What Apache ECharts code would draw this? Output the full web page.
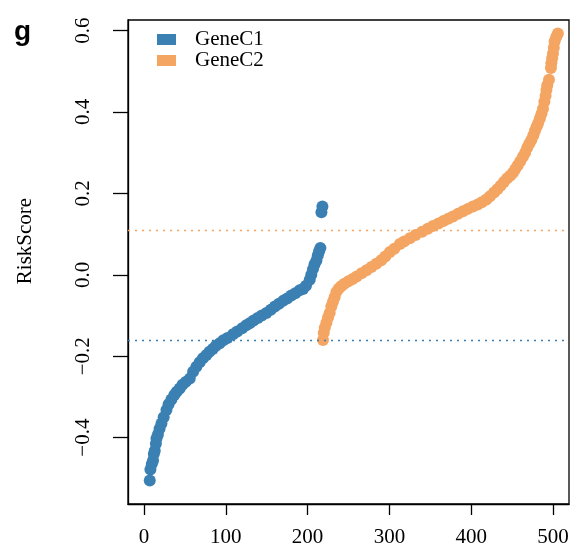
<!DOCTYPE html>
<html>
<head>
<meta charset="utf-8">
<script src="https://cdn.jsdelivr.net/npm/echarts@6/dist/echarts.min.js"></script>
<style>
	html, body { margin:0; padding:0; background:#fff; }
	#riskChart { width:574px; height:550px; }
</style>
</head>
<body>
<div id="riskChart"></div>
<script>
// sample index / risk score (sorted within each group)
var c1Index = [7.0, 7.8, 9.5, 11, 12, 13.1, 14.5, 15.2, 17, 19, 21.3, 24, 27.4, 30, 33.5, 37, 40, 43.6, 47, 51,
	55.9, 60, 64, 68, 72, 76.3, 80, 84, 88, 92.5, 97, 102, 108.8, 114, 120, 125, 129.2, 134, 139, 144,
	149.6, 155, 160, 165, 170, 175, 180, 185, 190.3, 194.4, 198, 202.6, 204.5, 206.6, 208.5, 210.8, 212.5, 214, 215.6, 216.9, 218.1];
var c1Score = [-0.505, -0.478, -0.465, -0.456, -0.440, -0.432, -0.415, -0.402, -0.392, -0.378, -0.365, -0.350, -0.332, -0.318, -0.306, -0.295, -0.287, -0.279, -0.270, -0.263,
	-0.255, -0.238, -0.226, -0.215, -0.205, -0.197, -0.189, -0.182, -0.174, -0.168, -0.161, -0.155, -0.146, -0.139, -0.131, -0.124, -0.119, -0.112, -0.106, -0.100,
	-0.094, -0.086, -0.078, -0.071, -0.064, -0.058, -0.051, -0.045, -0.038, -0.035, -0.027, -0.012, 0.000, 0.014, 0.026, 0.035, 0.048, 0.058, 0.066, 0.154, 0.168];

var c2Index = [218.8, 219.7, 221, 223, 225, 227, 229, 231, 233, 235.2, 238, 241, 245, 250, 255, 260, 266, 272, 278, 284,
	290, 295, 300.6, 306, 312.8, 318, 325, 332, 340, 347, 353.3, 360, 366, 372, 377.7, 384, 390, 396, 402.2, 408,
	413, 418.6, 423, 428, 432, 436, 440, 444, 448, 451.1, 454, 457, 460, 463.3, 466, 468.5, 471, 473.6, 476, 478,
	480, 481.7, 484, 486, 487.8, 489.5, 491, 492, 493, 495.1, 497.5, 498, 499, 500, 501, 502, 504, 506];
var c2Score = [-0.160, -0.143, -0.130, -0.118, -0.105, -0.094, -0.078, -0.066, -0.055, -0.042, -0.034, -0.028, -0.022, -0.016, -0.010, -0.004, 0.004, 0.011, 0.019, 0.027,
	0.036, 0.045, 0.056, 0.064, 0.076, 0.082, 0.090, 0.098, 0.106, 0.113, 0.120, 0.126, 0.132, 0.138, 0.143, 0.150, 0.156, 0.162, 0.168, 0.173,
	0.178, 0.185, 0.193, 0.202, 0.210, 0.219, 0.228, 0.237, 0.244, 0.251, 0.260, 0.269, 0.279, 0.290, 0.300, 0.312, 0.322, 0.331, 0.343, 0.354,
	0.364, 0.372, 0.384, 0.396, 0.408, 0.425, 0.440, 0.454, 0.466, 0.479, 0.508, 0.520, 0.532, 0.544, 0.558, 0.573, 0.584, 0.593];

var groupNames = ["GeneC1", "GeneC2"];
var groupColors = ["#3B80B3", "#F4A562"];
var cutoffs = [-0.156, 0.107];   // dotted threshold lines
var xTicks = [0, 100, 200, 300, 400, 500];
var yTicks = [-0.4, -0.2, 0, 0.2, 0.4, 0.6];

var serif = "Liberation Serif";

function pairUp(xs, ys){
	var out = [];
	for(var i=0;i<xs.length;i++){
		out.push([xs[i], ys[i]]);
	}
	return out;
}

function cutLine(v, color){
	return {
		silent: true,
		symbol: 'none',
		label: { show: false },
		lineStyle: { color: color, type: [2, 5], width: 1.4 },
		data: [{ yAxis: v }]
	};
}

var chart = echarts.init(document.getElementById("riskChart"));
var option = {
	animation: false,
	backgroundColor: '#fff',
	grid: {
		left: 128, top: 20, width: 441, height: 484,
		show: true, borderColor: '#000', borderWidth: 1.3,
		outerBoundsMode: 'none'
	},
	legend: {
		orient: 'vertical',
		left: 152, top: 24,
		icon: 'rect',
		itemWidth: 19, itemHeight: 11,
		itemGap: 0,
		data: groupNames,
		textStyle: { fontFamily: serif, fontSize: 21, color: '#000', lineHeight: 19, padding: [0, 0, 0, 14] }
	},
	xAxis: {
		type: 'value',
		min: -19.6, max: 519.6,
		axisLine: { show: true, onZero: false, lineStyle: { color: '#000', width: 1.3 } },
		splitLine: { show: false },
		axisTick: { show: true, length: 11, customValues: xTicks, lineStyle: { color: '#000', width: 1.3 } },
		axisLabel: { customValues: xTicks, fontFamily: serif, fontSize: 21, color: '#000', margin: 23 }
	},
	yAxis: {
		type: 'value',
		min: -0.563, max: 0.626,
		axisLine: { show: true, onZero: false, lineStyle: { color: '#000', width: 1.3 } },
		splitLine: { show: false },
		axisTick: { show: true, length: 15, customValues: yTicks, lineStyle: { color: '#000', width: 1.3 } },
		axisLabel: {
			customValues: yTicks, rotate: 90, fontFamily: serif, fontSize: 21, color: '#000', margin: 34,
			formatter: function(v){ return (v < 0 ? '\u2212' : '') + Math.abs(v).toFixed(1); }
		}
	},
	series: [{
		name: groupNames[0],
		type: 'scatter',
		symbolSize: 12,
		itemStyle: { color: groupColors[0], opacity: 1 },
		data: pairUp(c1Index, c1Score),
		markLine: cutLine(cutoffs[0], groupColors[0])
	}, {
		name: groupNames[1],
		type: 'scatter',
		symbolSize: 12,
		itemStyle: { color: groupColors[1], opacity: 1 },
		data: pairUp(c2Index, c2Score),
		markLine: cutLine(cutoffs[1], groupColors[1])
	}],
	graphic: [{
		type: 'text', left: 14, top: 18,
		style: { text: 'g', font: 'bold 28px "Liberation Sans"', fill: '#000' }
	}, {
		type: 'text', x: 25, y: 241, rotation: Math.PI / 2,
		style: { text: 'RiskScore', font: '21px "Liberation Serif"', fill: '#000', align: 'center', verticalAlign: 'middle' }
	}]
};
chart.setOption(option);
</script>
</body>
</html>
